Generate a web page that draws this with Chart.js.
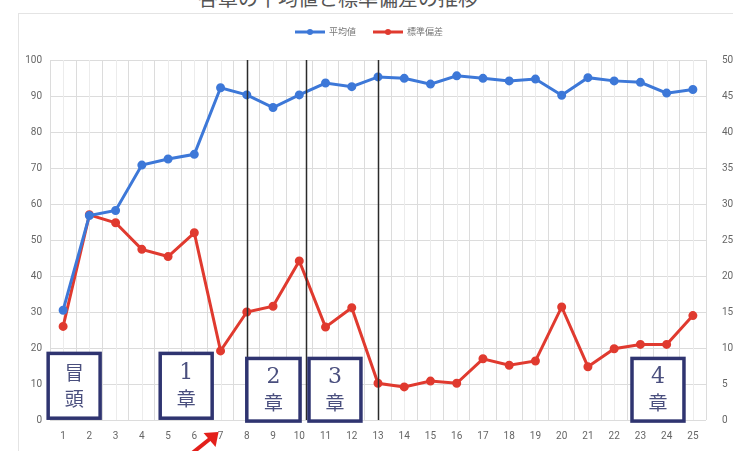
<!DOCTYPE html>
<html>
<head>
<meta charset="utf-8">
<script src="https://cdn.jsdelivr.net/npm/chart.js@4/dist/chart.umd.min.js"></script>
<style>
    body { margin: 0; background: #fff; }
    .wrap { position: relative; width: 733px; height: 451px; overflow: hidden; }
    .title {
        position: absolute; left: 0; width: 676px; top: -17px; text-align: center;
        font: 20px "Noto Sans CJK JP", sans-serif; color: #555;
    }
    .frame {
        position: absolute; left: 18px; top: 13px; right: -2px; bottom: -2px;
        border-top: 1px solid #e4e4e4; border-left: 1px solid #e4e4e4;
    }
    canvas { position: absolute; left: 0; top: 0; }
</style>
</head>
<body>
<div class="wrap">
    <div class="title">各章の平均値と標準偏差の推移</div>
    <div class="frame"></div>
    <canvas id="chart" width="733" height="451"></canvas>
</div>
<script>
const labels = ['1', '2', '3', '4', '5', '6', '7', '8', '9', '10', '11', '12', '13',
    '14', '15', '16', '17', '18', '19', '20', '21', '22', '23', '24', '25'];
const averages = [30.5, 56.8, 58.2, 70.8, 72.5, 73.8, 92.3, 90.3, 86.8, 90.3, 93.6, 92.6, 95.3,
    94.9, 93.3, 95.6, 94.9, 94.2, 94.7, 90.2, 95.1, 94.2, 93.8, 90.8, 91.8];
const stdDevs = [13.0, 28.5, 27.4, 23.7, 22.7, 26.0, 9.6, 15.0, 15.8, 22.1, 12.9, 15.6, 5.1,
    4.6, 5.4, 5.1, 8.5, 7.6, 8.2, 15.7, 7.4, 9.9, 10.5, 10.5, 14.5];

// chapter boundaries (category index) and chapter boxes
const dividers = [7, 9.25, 12];
const chapters = [
    { top: '冒', bottom: '頭', from: -0.57, to: 1.41, hi: 18.5, lo: 0.5 },
    { top: '1', bottom: '章', from: 3.7, to: 5.68, hi: 18.5, lo: 0.5 },
    { top: '2', bottom: '章', from: 7.0, to: 9.03, hi: 17.1, lo: -0.3 },
    { top: '3', bottom: '章', from: 9.37, to: 11.35, hi: 17.1, lo: -0.3 },
    { top: '4', bottom: '章', from: 21.68, to: 23.66, hi: 17.1, lo: -0.3 }
];

const BLUE = '#3d78d8';
const RED = '#e03a2f';

const annotations = {
    id: 'annotations',
    afterDatasetsDraw(chart) {
        const { ctx, chartArea, scales } = chart;
        const x = scales.x, y = scales.y;
        ctx.save();

        ctx.strokeStyle = '#2b2b2b';
        ctx.lineWidth = 1.5;
        dividers.forEach(d => {
            const px = Math.round(x.getPixelForValue(d)) + 0.5;
            ctx.beginPath();
            ctx.moveTo(px, chartArea.top);
            ctx.lineTo(px, chartArea.bottom);
            ctx.stroke();
        });

        chapters.forEach(c => {
            const x0 = x.getPixelForValue(c.from), x1 = x.getPixelForValue(c.to);
            const y0 = y.getPixelForValue(c.hi), y1 = y.getPixelForValue(c.lo);
            ctx.fillStyle = '#fff';
            ctx.fillRect(x0, y0, x1 - x0, y1 - y0);
            ctx.strokeStyle = '#2f3470';
            ctx.lineWidth = 3.5;
            ctx.strokeRect(x0, y0, x1 - x0, y1 - y0);
            ctx.fillStyle = '#4a4f7e';
            ctx.textAlign = 'center';
            ctx.textBaseline = 'middle';
            const cx = (x0 + x1) / 2, h = y1 - y0;
            const isDigit = /\d/.test(c.top);
            ctx.font = (isDigit ? '22px "DejaVu Serif"' : '19px "Noto Sans CJK JP"');
            ctx.fillText(c.top, cx, y0 + h * 0.3);
            ctx.font = '19px "Noto Sans CJK JP"';
            ctx.fillText(c.bottom, cx, y0 + h * 0.7);
        });

        // red arrow pointing at category 7
        const tipX = x.getPixelForValue(6) - 2, tipY = chartArea.bottom + 12;
        const tailX = tipX - 30, tailY = tipY + 24;
        ctx.strokeStyle = '#e3201b';
        ctx.fillStyle = '#e3201b';
        ctx.lineWidth = 4;
        ctx.beginPath();
        ctx.moveTo(tailX, tailY);
        ctx.lineTo(tipX - 5, tipY + 4);
        ctx.stroke();
        ctx.beginPath();
        ctx.moveTo(tipX, tipY);
        ctx.lineTo(tipX - 15, tipY + 1);
        ctx.lineTo(tipX - 3, tipY + 15);
        ctx.closePath();
        ctx.fill();

        ctx.restore();
    }
};

// legend drawn by hand so it sits where the original one does
const lineLegend = {
    id: 'lineLegend',
    afterDraw(chart) {
        const { ctx } = chart;
        const yMid = 32;
        let xPos = 295;
        ctx.save();
        ctx.font = '9px "Noto Sans CJK JP", sans-serif';
        ctx.textBaseline = 'middle';
        ctx.textAlign = 'left';
        chart.data.datasets.forEach(ds => {
            ctx.strokeStyle = ds.borderColor;
            ctx.fillStyle = ds.borderColor;
            ctx.lineWidth = 3;
            ctx.beginPath();
            ctx.moveTo(xPos, yMid);
            ctx.lineTo(xPos + 30, yMid);
            ctx.stroke();
            ctx.beginPath();
            ctx.arc(xPos + 15, yMid, 3, 0, Math.PI * 2);
            ctx.fill();
            ctx.fillStyle = '#777';
            ctx.fillText(ds.label, xPos + 34, yMid);
            xPos += 34 + ctx.measureText(ds.label).width + 17;
        });
        ctx.restore();
    }
};

const centreGrid = {
    id: 'centreGrid',
    beforeDatasetsDraw(chart) {
        const { ctx, chartArea, scales } = chart;
        ctx.save();
        ctx.strokeStyle = '#ececec';
        ctx.lineWidth = 1;
        labels.forEach((_, i) => {
            const px = Math.round(scales.x.getPixelForValue(i)) + 0.5;
            ctx.beginPath();
            ctx.moveTo(px, chartArea.top);
            ctx.lineTo(px, chartArea.bottom);
            ctx.stroke();
        });
        ctx.restore();
    }
};

const tickFont = { family: 'Roboto, sans-serif', size: 10 };

new Chart(document.getElementById('chart'), {
    type: 'line',
    data: {
        labels: labels,
        datasets: [
            {
                label: '平均値',
                data: averages,
                yAxisID: 'y',
                borderColor: BLUE,
                backgroundColor: BLUE,
                borderWidth: 3,
                pointRadius: 3,
                pointHoverRadius: 3,
                tension: 0
            },
            {
                label: '標準偏差',
                data: stdDevs,
                yAxisID: 'y1',
                borderColor: RED,
                backgroundColor: RED,
                borderWidth: 3,
                pointRadius: 3,
                pointHoverRadius: 3,
                tension: 0
            }
        ]
    },
    options: {
        responsive: false,
        animation: false,
        layout: { padding: { top: 60, left: 0, right: 0, bottom: 0 } },
        plugins: {
            tooltip: { enabled: false },
            legend: { display: false }
        },
        scales: {
            x: {
                offset: true,
                grid: { offset: true, color: '#dcdcdc', drawTicks: false },
                border: { display: false },
                ticks: { color: '#666', font: tickFont, maxRotation: 0, autoSkip: false, padding: 10 },
                afterFit: s => { s.height = 31; }
            },
            y: {
                position: 'left',
                min: 0, max: 100,
                grid: { color: '#dcdcdc', drawTicks: false },
                border: { display: false },
                ticks: { stepSize: 10, color: '#666', font: tickFont, padding: 8 },
                afterFit: s => { s.width = 50; }
            },
            y1: {
                position: 'right',
                min: 0, max: 50,
                grid: { display: false },
                border: { display: false },
                ticks: { stepSize: 5, color: '#666', font: tickFont, padding: 8 },
                afterFit: s => { s.width = 27; }
            }
        }
    },
    plugins: [centreGrid, annotations, lineLegend]
});
</script>
</body>
</html>
